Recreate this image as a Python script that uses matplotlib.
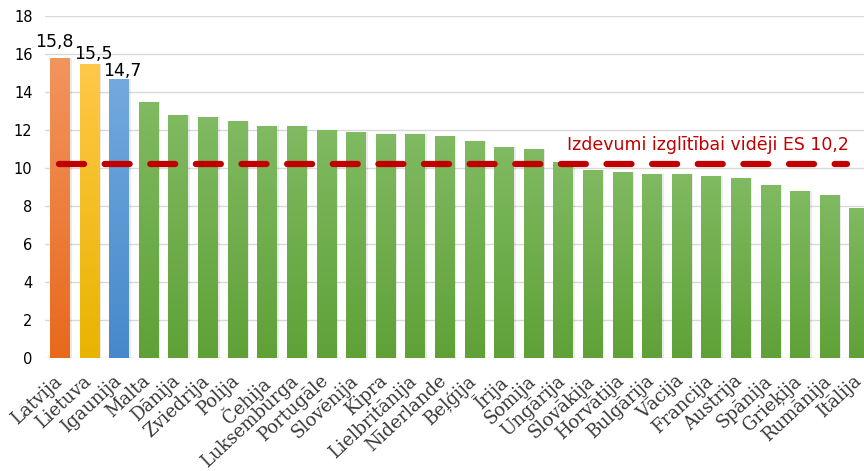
import numpy as np
import matplotlib
matplotlib.use("Agg")
from matplotlib import pyplot as plt
from matplotlib.colors import LinearSegmentedColormap
from matplotlib.transforms import ScaledTranslation

countries = ["Latvija", "Lietuva", "Igaunija", "Malta", "Dānija", "Zviedrija", "Polija",
             "Čehija", "Luksemburga", "Portugāle", "Slovēnija", "Kipra", "Lielbritānija",
             "Nīderlande", "Beļģija", "Īrija", "Somija", "Ungārija", "Slovākija", "Horvātija",
             "Bulgārija", "Vācija", "Francija", "Austrija", "Spānija", "Grieķija", "Rumānija",
             "Itālija"]
values = [15.8, 15.5, 14.7, 13.5, 12.8, 12.7, 12.5, 12.2, 12.2, 12.0, 11.9, 11.8, 11.8,
          11.7, 11.4, 11.1, 11.0, 10.3, 9.9, 9.8, 9.7, 9.7, 9.6, 9.5, 9.1, 8.8, 8.6, 7.9]
eu_avg = 10.2
avg_label = "Izdevumi izglītībai vidēji ES 10,2"
labelled = ["15,8", "15,5", "14,7"]
yticks = [0, 2, 4, 6, 8, 10, 12, 14, 16, 18]

# (top colour, bottom colour) for each bar
special = {0: ("#F2955E", "#E8691C"), 1: ("#FFC848", "#E9B400"), 2: ("#73A9DE", "#4689CB")}
green = ("#80BA62", "#5FA137")

fig = plt.figure(figsize=(8.64, 4.71), dpi=100)
ax = fig.add_axes([45 / 864, 1 - 358 / 471, 1 - 45 / 864, (358 - 16) / 471])

x = np.arange(len(countries))
bars = ax.bar(x, values, width=0.67, color="none", zorder=3)

grad = np.linspace(0, 1, 256).reshape(-1, 1)
for i, b in enumerate(bars):
    top, bottom = special.get(i, green)
    cmap = LinearSegmentedColormap.from_list("g%d" % i, [bottom, top])
    x0 = b.get_x()
    # soft shadow
    ax.bar(x[i] + 0.04, values[i], width=0.70, color="#000000", alpha=0.08, zorder=2)
    im = ax.imshow(grad, cmap=cmap, origin="lower", aspect="auto",
                   extent=(x0, x0 + b.get_width(), 0, b.get_height()), zorder=3)
    im.set_clip_path(b)

ax.set_xlim(-0.507, 27.16)
ax.set_ylim(0, 18)

ax.plot([-0.05, 26.6], [eu_avg, eu_avg], color="#C00000", lw=4.5,
        dashes=(4.0, 3.3), solid_capstyle="round", dash_capstyle="round", zorder=4)
ax.text(26.65, eu_avg + 0.55, avg_label, color="#C00000", fontsize=12.5,
        ha="right", va="bottom", family="DejaVu Sans", zorder=5)

dx = [-0.19, 0.12, 0.12]
dy = [0.55, 0.25, 0.15]
for i, lab in enumerate(labelled):
    ax.text(x[i] + dx[i], values[i] + dy[i], lab, ha="center", va="baseline",
            fontsize=12.5, color="#000000", zorder=5)

ax.set_yticks(yticks)
ax.set_yticklabels([str(t) for t in yticks], fontsize=10.5)
ax.set_xticks(x)
ax.set_xticklabels([])
ax.tick_params(axis="both", length=0)
ax.tick_params(axis="y", pad=9)

# country names, rotated like the Excel axis
shift = ax.get_xaxis_transform() + ScaledTranslation(-7 / 100, -14 / 100, fig.dpi_scale_trans)
for xi, name in zip(x, countries):
    ax.text(xi, 0, name, transform=shift, rotation=43, ha="right", va="top",
            rotation_mode="anchor", family="DejaVu Serif", fontsize=13,
            color="#383838", clip_on=False)

ax.grid(axis="y", color="#D9D9D9", lw=1, zorder=0)
ax.set_axisbelow(True)
for s in ax.spines.values():
    s.set_visible(False)

fig.savefig("out.png", dpi=100)
